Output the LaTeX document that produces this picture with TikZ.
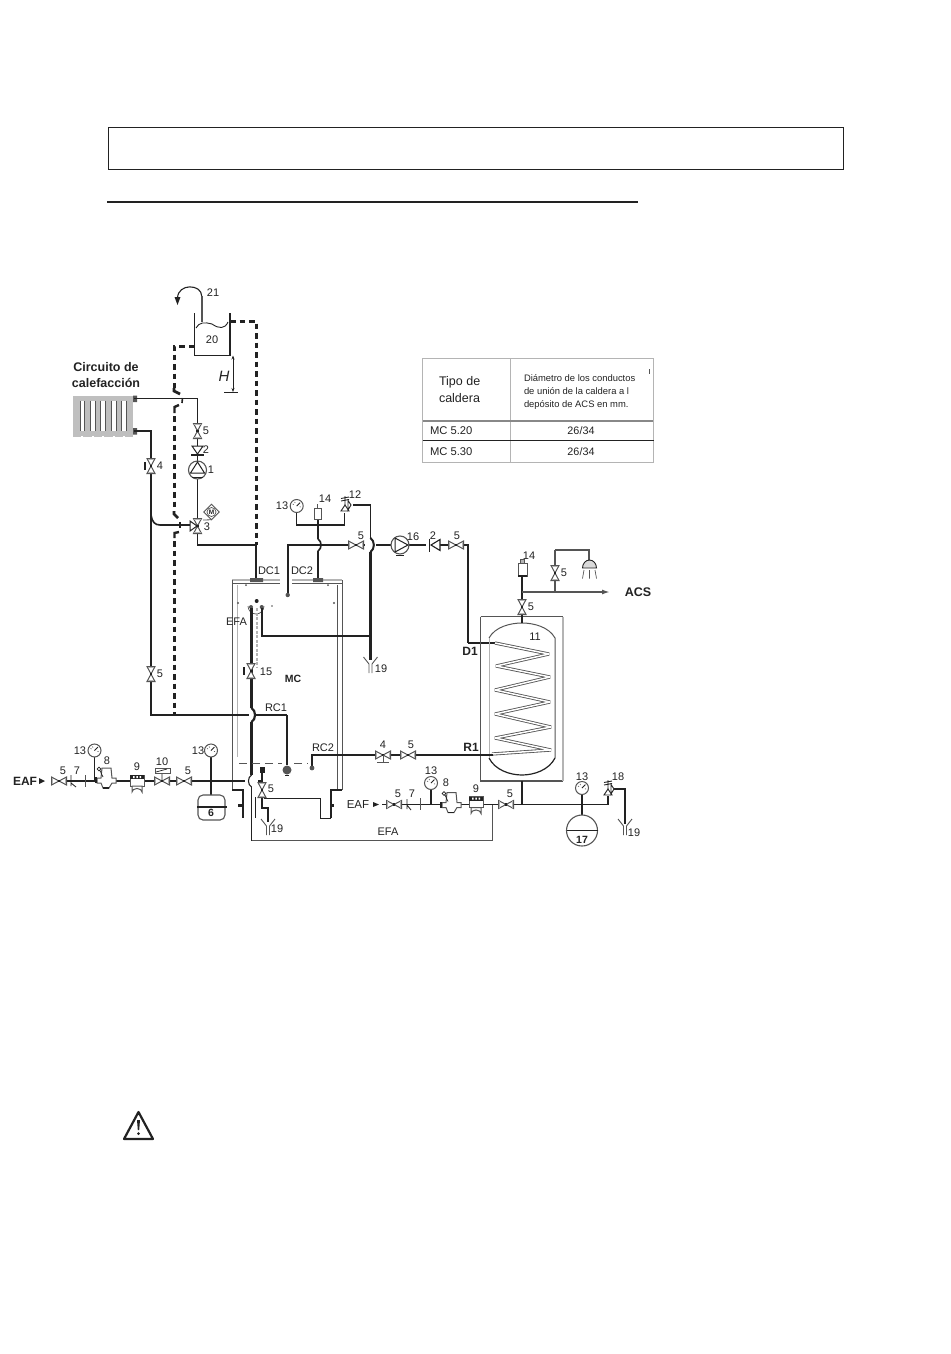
\documentclass[tikz,border=0pt]{standalone}
\usepackage{fontspec}
\setmainfont{Liberation Sans}
\usetikzlibrary{arrows.meta,calc}
\definecolor{ink}{HTML}{222222}
\definecolor{midg}{HTML}{555555}
\definecolor{lightg}{HTML}{B4B4B4}
\tikzset{
  every node/.style={inner sep=0pt,outer sep=0pt,text=ink},
  lbl/.style={font=\fontsize{11}{13}\selectfont},
  blbl/.style={font=\fontsize{12}{14}\bfseries\selectfont},
  thinp/.style={draw=ink,line width=1.1pt},
  midp/.style={draw=ink,line width=1.6pt},
  grayp/.style={draw=midg,line width=1.9pt},
  thickp/.style={draw=ink,line width=2.6pt},
  dashp/.style={draw=ink,line width=3pt,dash pattern=on 5.5pt off 4pt},
  wallp/.style={draw=midg,line width=1pt},
  part/.style={draw=midg,line width=1pt,fill=white},
  pics/vvalve/.style={code={
    \path[part] (-4,-7.5)--(4,-7.5)--(-4,7.5)--(4,7.5)--cycle;
    \fill[ink] (-1.3,-1.3) rectangle (1.3,1.3);
    \draw[lightg,line width=1.2pt] (-3.4,6.8)--(3.4,6.8) (-3.4,-6.8)--(3.4,-6.8);}},
  pics/hvalve/.style={code={
    \path[part] (-7.5,-4)--(-7.5,4)--(7.5,-4)--(7.5,4)--cycle;
    \fill[ink] (-1.3,-1.3) rectangle (1.3,1.3);
    \draw[lightg,line width=1.2pt] (-6.8,-3.4)--(-6.8,3.4) (6.8,-3.4)--(6.8,3.4);}},
  pics/gauge/.style={code={
    \draw[midg,line width=1pt,fill=white] (0,0) circle (6.5);
    \draw[ink,line width=0.8pt] (0,0)--(3.4,-3.4);
    \draw[ink,line width=0.5pt] (-4,-2)--(-3,-1.5) (-2,-4)--(-1.5,-3) (4,1)--(3,.8);}},
  pics/funnel/.style={code={
    \draw[midg,line width=0.9pt] (-7,0)--(-1.5,7)--(-1.5,16) (7,0)--(1.5,7)--(1.5,16);}},
  pics/regul/.style={code={
    \path[part,line width=1pt] (-9,-1)--(-5,-1)--(-4,-11)--(5,-11)--(6,-1)--(10,-1)--(10,4)--(6,4)--(3,9)--(-3,9)--(-5,4)--(-9,4)--cycle;
    \draw[ink,line width=1.6pt] (-3,9)--(3,9);
    \draw[ink,line width=0.7pt] (-7,-10) circle (1.8) (-6,-8.5)--(-3,-2);
    \fill[ink] (-11,-2) rectangle (-9,4);}},
  pics/filt/.style={code={
    \path[part] (-7,-8)rectangle(7,3);
    \fill[ink] (-7,-8)rectangle(7,-4);
    \fill[white] (-4,-7)rectangle(-2.5,-5) (-.7,-7)rectangle(.8,-5) (2.5,-7)rectangle(4,-5);
    \path[part] (-5,3)--(5,3)--(5,9) arc (0:-180:5 and 3.5)--cycle;}}
}
\newcommand{\lab}[4]{\node[lbl] (#1) at (#2,#3) {#4};}
\newcommand{\blab}[4]{\node[blbl] (#1) at (#2,#3) {#4};}
\begin{document}
\begin{tikzpicture}[x=1pt,y=-1pt]
\useasboundingbox (0,0) rectangle (950,1354);
% page furniture
\node[draw=ink,line width=1pt,minimum width=735pt,minimum height=42pt] (hdr) at (475.5,148) {};
\coordinate (rulea) at (107,202); \coordinate (ruleb) at (638,202);
\draw[ink,line width=1.5pt] (rulea)--(ruleb);
\coordinate (warn) at (138.5,1126);
\draw[ink,line width=2.2pt,line join=round] ($(warn)+(0,-14)$)--($(warn)+(14.5,13)$)--($(warn)+(-14.5,13)$)--cycle;
\fill[ink] ($(warn)+(-1.5,-6)$)--($(warn)+(1.5,-6)$)--($(warn)+(.7,4)$)--($(warn)+(-.7,4)$)--cycle;
\fill[ink] ($(warn)+(0,7.5)$) circle (1.5);

% table
\node[draw=lightg,line width=1pt,minimum width=230.5pt,minimum height=104pt] (tbl) at (538,410) {};
\draw[lightg,line width=1pt] (510.7,358)--(510.7,462);
\draw[midg!70,line width=1.8pt] (422.7,420.7)--(653.2,420.7);
\draw[ink,line width=1pt] (422.7,440)--(654,440);
\draw[midg,line width=.7pt] (649.5,369)--(649.5,374);
\node[font=\fontsize{12.5}{17}\selectfont,align=left,anchor=west] (ttipo) at (439,390) {Tipo de\\caldera};
\node[font=\fontsize{9.4}{13}\selectfont,align=left,anchor=west] (tdiam) at (524,392) {Diámetro de los conductos\\de unión de la caldera a l\\depósito de ACS en mm.};
\node[font=\fontsize{11.2}{12}\selectfont,anchor=west] (tm20) at (430,431) {MC 5.20};
\node[font=\fontsize{11.2}{12}\selectfont,anchor=west] (tm30) at (430,452) {MC 5.30};
\node[font=\fontsize{10.8}{12}\selectfont] (td20) at (581,431) {26/34};
\node[font=\fontsize{10.8}{12}\selectfont] (td30) at (581,452) {26/34};

% coordinates of the pipe network
\coordinate (rtop) at (134,398.5);
\coordinate (rbot) at (134,431);
\coordinate (sup1) at (197.5,398.5);
\coordinate (sup2) at (197.5,545);
\coordinate (sup3) at (256,545);
\coordinate (dc1) at (256,578);
\coordinate (ret1) at (151,431);
\coordinate (ret2) at (151,715);
\coordinate (ret3) at (287,715);
\coordinate (rcb) at (287,765);
\coordinate (h1a) at (251.5,708);
\coordinate (h1b) at (251.5,722);
\coordinate (tee3) at (190,525);
\coordinate (teeb) at (151,515);

% expansion tank and dashed lines
\draw[ink,line width=1.1pt] (194.3,313)--(194.3,355.3)--(230,355.3)--(230,313);
\draw[ink,line width=.9pt] (196,328) .. controls (199,322) and (205,322) .. (212,324) .. controls (219,329) and (225,329) .. (228,322);
\coordinate (t21a) at (201.7,322); \coordinate (t21b) at (177.5,298);
\draw[midg,line width=1.7pt] (t21a)--(201.7,296);
\draw[ink,line width=1.1pt] (201.7,296) .. controls (201.7,284) and (178,283) .. (t21b);
\fill[ink] (174.5,297)--(180.5,297)--(177.5,305)--cycle;
\draw[dashp] (230,321)--(256,321)--(256,545);
\draw[dashp] (194,346)--(174,346)--(174,388);
\draw[ink,line width=2.8pt] (174,388)--(174,391)--(180,394);
\draw[ink,line width=1.6pt] (182.5,398)--(182,403);
\draw[ink,line width=2.4pt] (179,405)--(174.5,407)--(174.5,413);
\draw[dashp] (174,416)--(174,511);
\draw[ink,line width=2.6pt] (174,511)--(174,514)--(178,518);
\draw[ink,line width=1.6pt] (180,522)--(180,528);
\draw[ink,line width=2.4pt] (179,532)--(174.5,533)--(174.5,538);
\draw[dashp] (174,541)--(174,714);
% H
\draw[ink,line width=.8pt,{Stealth[length=4pt,width=3pt]}-{Stealth[length=4pt,width=3pt]}] (233,355.5)--(233,392);
\draw[ink,line width=.8pt] (224,392.3)--(238,392.3);
\node[font=\fontsize{15}{16}\itshape\selectfont] (lH) at (224,376) {H};

% radiator
\fill[lightg!85] (73.3,395.5)rectangle(133,437);
\foreach \sx in {80,90.7,100.7,111.7,121.7}{
  \fill[white] (\sx,400.5) rectangle ++(4.2,30);
  \fill[white] (\sx+1,395) rectangle ++(2.2,1.3);
  \fill[white] (\sx+1,436) rectangle ++(2.2,1.3);
  \draw[midg,line width=.8pt] (\sx,400.5)--++(0,30) (\sx+4.2,400.5)--++(0,30);
}
\fill[midg] (133,395.5)rectangle(137,402) (133,428)rectangle(137,434.5);
\node[font=\fontsize{12.5}{15.5}\bfseries\selectfont,align=center] (lcirc) at (106,375) {Circuito de\\calefacción};

% heating circuit
\draw[midp] (rtop)--(sup1)--(197.5,525);
\draw[midp,line width=1.8pt] (197.5,525)--(sup2)--(sup3);
\draw[thickp,line width=2.2pt] (sup3)--(dc1);
\draw[thickp] (rbot)--(ret1)--(ret2)--(ret3);
\draw[midp] (ret3)--(rcb);
\draw[midp] (teeb) .. controls (152,522) and (155,525) .. (160,525)--(tee3);
\pic at (197.5,431) {vvalve};
\draw[ink,line width=1pt,fill=white] (192,446)--(203,446)--(197.5,454)--cycle;
\draw[ink,line width=1.6pt] (191,455)--(204,455);
\draw[midg,line width=1.1pt,fill=white] (197.5,470) circle (9);
\draw[ink,line width=1pt] (197.5,462)--(190.5,473)--(204.5,473)--cycle;
\draw[ink,line width=1.6pt] (192,477.5)--(203,477.5);
\pic at (197.5,526) {vvalve};
\draw[ink,line width=1pt,fill=white] (190,521)--(190,531)--(197,526)--cycle;
\node[draw=midg,line width=.8pt,fill=white,rotate=45,minimum size=11pt] (motor) at (211.5,512) {};
\node[draw=midg,line width=.7pt,circle,minimum size=9pt,font=\fontsize{6.5}{6}\bfseries\selectfont] (mm) at (211.5,512) {M};
\draw[midg,line width=.8pt] (motor.south west)--(203,520);
\pic at (151,466) {vvalve};
\pic at (151,674) {vvalve};
\draw[ink,line width=1.4pt] (145,462)--(145,470);
\lab{n21}{213}{293}{21}
\node[lbl] (n20) at (212,340) {20};
\lab{n5a}{206}{431}{5}
\lab{n2a}{206}{450}{2}
\lab{n1}{211}{470}{1}
\lab{n3}{207}{527}{3}
\lab{n4a}{160}{466}{4}
\lab{n5b}{160}{674}{5}

% boiler casing
\draw[lightg,line width=1.3pt] (232,580)--(280,580) (292,580)--(342,580);
\draw[wallp] (232,583)--(280,583) (292,583)--(342,583);
\draw[wallp] (232,580)--(232,790);
\draw[lightg,line width=1.5pt] (237.5,585)--(237.5,757);
\draw[wallp] (337,585)--(337,790);
\draw[wallp] (342,580)--(342,790);
\fill[midg] (250,578)rectangle(263,582) (313,578)rectangle(323,582);
\draw[ink,line width=2pt] (232,790)--(243,790)--(243,818);
\fill[ink] (238,803.5)rectangle(243,806.5);
\draw[ink,line width=1pt] (255,797)--(255,818);
\draw[ink,line width=1pt] (264,798)--(320,798)--(320,818)--(331,818);
\draw[ink,line width=2pt] (331,818)--(331,790)--(342,790);
\fill[ink] (331,803.5)rectangle(334,806.5);
\fill[midg] (238,603)circle(1.2) (334,603)circle(1.2) (272,606)circle(.8) (246,585)circle(1) (328,585)circle(1);
\draw[midg,line width=.7pt] (248,606) arc (180:360:8 and -8);
\fill[midg] (251,607)circle(2) (261.7,607)circle(2);
\fill[ink] (256.7,601)circle(2);
\lab{nDC1}{269}{571}{DC1}
\lab{nDC2}{302}{571}{DC2}
\lab{nEFAa}{236.5}{622}{EFA}
\node[font=\fontsize{10.5}{11}\bfseries\selectfont] (nMC) at (293,679) {MC};
\lab{n15}{266}{672}{15}
\lab{nRC1}{276}{708}{RC1}
\lab{nRC2}{323}{748}{RC2}

% EFA internal & safety
\coordinate (efat) at (251.5,608);
\coordinate (efac) at (251.5,775);
\coordinate (efad) at (251.5,840.5);
\coordinate (efae) at (492.5,840.5);
\coordinate (efaf) at (492.5,805);
\fill[white] (246,708) rectangle (258,722);
\draw[ink,line width=2.6pt] (151,715)--(260,715);
\fill[white] (249,707) rectangle (254,723);
\draw[thickp,line width=2.2pt] (efat)--(h1a);
\draw[thickp,line width=2.2pt] (h1a) to[bend left=60] (h1b);
\draw[thickp,line width=2.2pt] (h1b)--(efac);
\draw[thickp,line width=1.6pt] (251.5,787)--(efad);
\draw[grayp] (efad)--(efae)--(efaf);
\draw[lightg,line width=2.2pt,dash pattern=on 3pt off 1.5pt] (256.7,608)--(256.7,668);
\coordinate (drt) at (261.7,608);
\coordinate (drc) at (261.7,636);
\coordinate (dre) at (370.5,636);
\draw[midp,line width=2pt] (drt)--(drc)--(dre);
\coordinate (vcol) at (370.5,505);
\coordinate (vcolb) at (370.5,660);
\draw[midp,line width=1.8pt] (353,505)--(vcol)--(370.5,538);
\draw[midp,line width=2pt] (370.5,538) to[bend left=55] (370.5,552);
\draw[thickp] (370.5,552)--(vcolb);
\pic at (370.5,657) {funnel};
\lab{n19a}{381}{669}{19}
\pic at (251,671) {vvalve};
\draw[ink,line width=1.6pt] (244,667)--(244,675);
\lab{n5c}{271}{789}{5}

% DC2 line
\coordinate (dc2a) at (287.7,595);
\coordinate (dc2b) at (287.7,545);
\coordinate (p5) at (467.7,545);
\coordinate (p6) at (467.7,643);
\coordinate (p7) at (495,643);
\draw[midp] (dc2a)--(dc2b)--(346,545);
\draw[midp] (346,545)--(365,545);
\draw[midp] (376,545)--(391,545);
\draw[midp] (409,545)--(426,545);
\draw[thinp] (440,545)--(449,545);
\draw[midp] (463,545)--(p5)--(p6);
\draw[midp,line width=2pt] (p6)--(p7);
\fill[midg] (dc2a) circle (2.2);
\draw[midp] (318,519)--(318,539);
\draw[midp] (318,539) to[bend left=60] (318,551);
\draw[midp] (318,551)--(318,578);
\draw[thinp] (296.7,512)--(296.7,525)--(344.7,525)--(344.7,513);
\draw[midg,line width=.9pt,fill=white] (314,508) rectangle (321.5,519);
\draw[midg,line width=.7pt] (317.7,508)--(317.7,504);
\pic at (296.7,506) {gauge};
% valve 12
\draw[ink,line width=.9pt,fill=white] (341,511)--(349,511)--(345,505)--cycle;
\draw[ink,line width=.9pt,fill=white] (348,500.5)--(348,510)--(351,505)--cycle;
\draw[ink,line width=.9pt] (345,505)--(345,496) (341,498.5)--(349,497) (341,501)--(349,499.5);
\pic at (356,545) {hvalve};
\draw[midg,line width=1.1pt,fill=white] (400,545) circle (9);
\draw[ink,line width=1pt] (408,545)--(395,538)--(395,552)--cycle;
\draw[ink,line width=1.4pt] (396,555.5)--(404,555.5);
\draw[ink,line width=1.1pt,fill=white] (440,539.5)--(440,550.5)--(431,545)--cycle;
\draw[ink,line width=1.6pt] (429.5,538.5)--(429.5,551.5);
\pic at (456,545) {hvalve};
\lab{n13a}{282}{506}{13}
\lab{n14a}{325}{499}{14}
\lab{n12}{355}{495}{12}
\lab{n5d}{361}{536}{5}
\lab{n16}{413}{537}{16}
\lab{n2b}{433}{536}{2}
\lab{n5e}{457}{536}{5}
\blab{nD1}{470}{651}{D1}
\blab{nR1}{471}{747}{R1}

% hot water tank
\draw[midg,line width=1.1pt] (480.7,616.7)--(563,616.7);
\draw[midg,line width=1.1pt] (480.7,616.7)--(480.7,781)--(563,781);
\draw[lightg,line width=2.2pt] (563,616.7)--(563,781);
\draw[midg,line width=1pt] (489,638) .. controls (495,627) and (510,623) .. (522,623) .. controls (534,623) and (549,627) .. (555,638)--(555,758);
\draw[ink,line width=1.2pt] (555,758) .. controls (549,770) and (534,775) .. (522,775) .. controls (510,775) and (495,770) .. (489,758);
\draw[lightg,line width=.8pt] (489,638)--(489,758);
\draw[midg,line width=3.2pt,line join=miter,miter limit=4] (495,643)--(549,654)--(496,666)--(550,677)--(495,690)--(550,702)--(495,714)--(551,727)--(495,738)--(551,750)--(492,754);
\draw[white,line width=1.5pt,line join=miter,miter limit=4] (495,643)--(549,654)--(496,666)--(550,677)--(495,690)--(550,702)--(495,714)--(551,727)--(495,738)--(551,750)--(492,754);
\lab{n11}{535}{637}{11}

% ACS
\coordinate (acs0) at (522,623);
\coordinate (acs1) at (522,592);
\coordinate (acs2) at (606,592);
\coordinate (sh1) at (555,592);
\coordinate (sh2) at (555,550);
\coordinate (sh3) at (589,550);
\coordinate (sh4) at (589,561);
\draw[midp] (acs0)--(acs1)--(522,576);
\draw[grayp,-{Latex[length=8pt,width=5pt]}] (acs1)--(610,592);
\draw[grayp,line width=1.6pt] (sh1)--(sh2);
\draw[grayp,line width=2pt] (sh2)--(sh3)--(sh4);
\pic at (522,607) {vvalve};
\pic at (555,573) {vvalve};
\draw[midg,line width=.9pt,fill=white] (518,563) rectangle (527,576);
\draw[ink,line width=1.4pt] (518,576)--(527,576);
\draw[midg,line width=1pt,fill=lightg] (520.5,563) rectangle (524,559);
\draw[ink,line width=.9pt,fill=lightg!50] (582.5,568) arc (180:360:7 and 8)--cycle;
\draw[midg,line width=.7pt] (584,570)--(582.5,578.5) (589.5,570)--(589.5,578.5) (595,570)--(596.5,578.5);
\lab{n14b}{529}{556}{14}
\lab{n5f}{531}{607}{5}
\lab{n5g}{564}{573}{5}
\node[font=\fontsize{12.5}{14}\bfseries\selectfont] (nACS) at (638,592) {ACS};

% return to tank
\coordinate (r1a) at (312,755);
\coordinate (r1b) at (493,755);
\coordinate (r1d) at (312,768);
\draw[midp] (r1d)--(r1a)--(r1b);
\fill[midg] (r1d) circle (2.4);
\draw[midg,line width=.6pt,dash pattern=on 8pt off 5pt] (239,763)--(282,763) (294,763)--(308,763);
\fill[midg] (287,770) circle (4.5);
\fill[ink] (285,775)rectangle(289,776);
\pic at (408,755) {hvalve};
\pic at (383,755) {hvalve};
\draw[midg,line width=.9pt] (383,755)--(383,762) (377,762.5)--(389,762.5);
\lab{n4b}{383}{745}{4}
\lab{n5h}{411}{745}{5}

% left cold water feed
\coordinate (eaf1) at (52,781);
\coordinate (eaf2) at (245,781);
\coordinate (eaf3) at (262,781);
\coordinate (eaf4) at (262,770);
\coordinate (dr1) at (262,797);
\coordinate (dr2) at (262,808);
\coordinate (dr3) at (268,808);
\coordinate (dr4) at (268,822);
\draw[thinp] (eaf1)--(eaf2);
\draw[thinp] (251.5,775) to[bend right=60] (251.5,787);
\draw[thinp] (258,781)--(eaf3);
\draw[midp] (eaf4)--(262,781)--(dr1);
\draw[midp,line width=2pt] (dr1)--(dr2)--(dr3)--(dr4);
\fill[ink] (259.5,767)rectangle(264.5,772.5);
\pic at (262,790) {vvalve};
\pic at (268,819) {funnel};
\lab{n19b}{277}{829}{19}
\node[blbl] (nEAFa) at (25,781) {EAF};
\fill[ink] (39,778)--(45,781)--(39,784)--cycle;
\pic at (59,781) {hvalve};
\draw[ink,line width=.8pt] (71,775)--(71,786) (71,783)--(76,787);
\draw[midg,line width=1.5pt] (85.5,775)--(85.5,787);
\pic at (106,779) {regul};
\pic at (137,783) {filt};
\pic at (162,781) {hvalve};
\draw[midg,line width=.8pt,fill=white] (155,768.5)rectangle(170,773.5);
\draw[ink,line width=.7pt] (162,774)--(162,780) (156,772)--(167,769);
\pic at (184,781) {hvalve};
\draw[thinp] (94.5,757)--(94.5,781);
\pic at (94.5,750.5) {gauge};
\draw[thinp] (211,757)--(211,795);
\pic at (211,750.5) {gauge};
\draw[midg,line width=1.1pt,fill=white,rounded corners=5pt] (198,795) rectangle (225,820);
\draw[ink,line width=2.6pt] (197,807)--(227,807);
\lab{n13b}{80}{751}{13}
\lab{n5i}{63}{771}{5}
\lab{n7a}{77}{771}{7}
\lab{n8a}{107}{761}{8}
\lab{n9a}{137}{767}{9}
\lab{n10}{162}{762}{10}
\lab{n5j}{188}{771}{5}
\lab{n13c}{198}{751}{13}
\node[font=\fontsize{10.5}{12}\bfseries\selectfont] (n6) at (211,813) {6};

% right cold water feed
\coordinate (f1) at (382,804.5);
\coordinate (f2) at (608,804.5);
\coordinate (f3) at (521.7,781);
\coordinate (f4) at (521.7,804.5);
\coordinate (f5) at (608,796);
\coordinate (f6) at (612,789);
\coordinate (f7) at (625,789);
\coordinate (f8) at (625,824);
\draw[thinp] (f1)--(f2)--(f5);
\draw[midp] (f3)--(f4);
\draw[thickp] (f6)--(f7)--(f8);
\pic at (625,819) {funnel};
\lab{n19c}{634}{833}{19}
\node[font=\fontsize{11.5}{13}\selectfont] (nEAFb) at (358,804.5) {EAF};
\fill[ink] (373,802)--(379,804.5)--(373,807)--cycle;
\pic at (394,804.5) {hvalve};
\draw[ink,line width=.8pt] (407,799)--(407,809) (407,805)--(411,810);
\draw[midg,line width=1.5pt] (420.5,798)--(420.5,810);
\draw[thinp] (431,788)--(431,804.5);
\pic at (431,783) {gauge};
\pic at (451,803.5) {regul};
\pic at (476,804.5) {filt};
\pic at (506,804.5) {hvalve};
\lab{n13d}{431}{771}{13}
\lab{n5k}{398}{794}{5}
\lab{n7b}{412}{794}{7}
\lab{n8b}{446}{783}{8}
\lab{n9b}{476}{789}{9}
\lab{n5l}{510}{794}{5}
\lab{nEFAb}{388}{832}{EFA}
% vessel 17
\draw[ink,line width=2.8pt] (582,794)--(582,815);
\draw[midg,line width=1.1pt,fill=white] (582,830.5) circle (15.5);
\draw[ink,line width=1.2pt] (566.5,830.5)--(597.5,830.5);
\pic at (582,788) {gauge};
\lab{n13e}{582}{777}{13}
\node[font=\fontsize{10.5}{12}\bfseries\selectfont] (n17) at (582,840) {17};
% valve 18
\draw[ink,line width=.9pt,fill=white] (604,795)--(612,795)--(608,789)--cycle;
\draw[ink,line width=.9pt,fill=white] (611,784.5)--(611,794)--(614,789)--cycle;
\draw[ink,line width=.9pt] (608,789)--(608,780) (604,782.5)--(612,781) (604,785)--(612,783.5);
\lab{n18}{618}{777}{18}
\end{tikzpicture}
\end{document}
